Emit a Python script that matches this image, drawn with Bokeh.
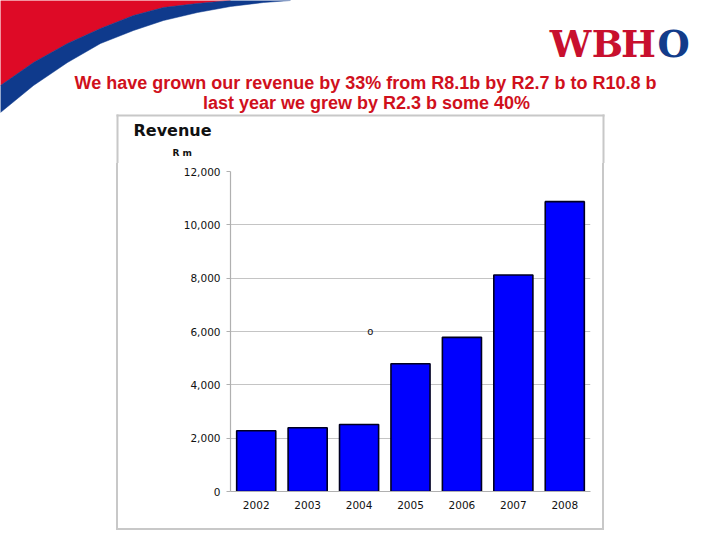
from bokeh.plotting import figure
from bokeh.models import (FactorRange, Range1d, FixedTicker, NumeralTickFormatter,
                          Label, ColumnDataSource, Spacer)
from bokeh.layouts import column, row
from bokeh.core.properties import value
from bokeh.embed import file_html
from bokeh.resources import INLINE

# ---- data ----
years = ["2002", "2003", "2004", "2005", "2006", "2007", "2008"]
revenue = [2280, 2390, 2510, 4790, 5780, 8120, 10870]
y_ticks = [0, 2000, 4000, 6000, 8000, 10000, 12000]
chart_title = "Revenue"
unit_label = "R m"
headline_1 = "We have grown our revenue by 33% from R8.1b by R2.7 b to R10.8 b"
headline_2 = "last year we grew by R2.3 b some 40%"

BORDER = "#c8c8c8"

# ---- header (page pixels, y down): swoosh, logo, headline, top of chart box ----
hdr = figure(width=720, height=163, output_backend="svg", toolbar_location=None,
             x_range=Range1d(0, 720), y_range=Range1d(163, 0),
             x_axis_type=None, y_axis_type=None, min_border=0)
hdr.outline_line_color = None
hdr.grid.visible = False
hdr.background_fill_color = "white"
hdr.border_fill_color = "white"

red_edge_x = [230, 197, 163, 133, 100, 67, 33, 0]
red_edge_y = [0, 3, 7, 15, 28, 43, 62, 85]
blue_edge_x = [290, 263, 230, 197, 163, 133, 100, 67, 33, 0]
blue_edge_y = [0, 2, 6, 12, 20, 30, 43, 62, 85, 112]
hdr.patch([0] + red_edge_x, [0] + red_edge_y,
          fill_color="#de0a26", line_color="#de0a26", line_width=0.5)
hdr.patch(blue_edge_x + red_edge_x[::-1], blue_edge_y + red_edge_y[::-1],
          fill_color="#0f3a8c", line_color="#0f3a8c", line_width=0.5)

for letter, cx, col in (("W", 570, "#c8102e"), ("B", 607, "#c8102e"),
                        ("H", 638, "#c8102e"), ("O", 673, "#123c8a")):
    hdr.text(x=[cx], y=[43], text=[letter], text_font=value("DejaVu Serif"),
             text_font_style="bold", text_font_size="37px", text_color=col,
             text_baseline="alphabetic", text_align="center")

hdr.text(x=[365, 366], y=[82, 102], text=[headline_1, headline_2],
         text_font=value("Liberation Sans"), text_font_style="bold",
         text_font_size="18px", text_color="#d0101c",
         text_baseline="alphabetic", text_align="center")

# top part of the grey chart box
hdr.segment(x0=[116, 117, 603], y0=[115, 114, 114], x1=[604, 117, 603], y1=[115, 163, 163],
            line_color=BORDER, line_width=2)

# chart title and unit
hdr.text(x=[133], y=[130], text=[chart_title], text_font=value("DejaVu Sans"),
         text_font_style="bold", text_font_size="16px", text_color="#111111",
         text_baseline="middle", text_align="left")
hdr.text(x=[172], y=[152], text=[unit_label], text_font=value("DejaVu Sans"),
         text_font_style="bold", text_font_size="9px", text_color="#111111",
         text_baseline="middle", text_align="left")

# ---- chart ----
p = figure(width=484, height=365, output_backend="svg", toolbar_location=None,
           x_range=FactorRange(*years, range_padding=0),
           y_range=Range1d(0, 12000),
           min_border_left=112, min_border_right=12,
           min_border_top=8, min_border_bottom=37)
p.outline_line_color = None
p.background_fill_color = "white"
p.border_fill_color = "white"

src = ColumnDataSource(dict(year=years, revenue=revenue))
p.vbar(x="year", top="revenue", width=0.76, source=src,
       fill_color="#0000ff", line_color="#000022", line_width=1.6)

p.xgrid.grid_line_color = None
p.ygrid.grid_line_color = "#c4c4c4"
p.ygrid.grid_line_width = 1.2
p.yaxis.ticker = FixedTicker(ticks=y_ticks)
p.yaxis.formatter = NumeralTickFormatter(format="0,0")
for ax in (p.xaxis[0], p.yaxis[0]):
    ax.axis_line_color = "#b0b0b0"
    ax.axis_line_width = 1.2
    ax.major_tick_line_color = "#b0b0b0"
    ax.major_tick_in = 0
    ax.major_tick_out = 4
    ax.minor_tick_line_color = None
    ax.major_label_text_font = "DejaVu Sans"
    ax.major_label_text_font_size = "10.5px"
    ax.major_label_text_color = "#111111"
p.xaxis.major_tick_line_color = None
p.xaxis.major_label_standoff = 5
p.yaxis.major_label_standoff = 6

# stray label seen in the original chart
p.add_layout(Label(x=2.72, y=6000, text="o", text_font="DejaVu Sans",
                   text_font_size="10px", text_color="#111111",
                   text_baseline="middle", text_align="center"))

# ---- assemble: lower part of the grey box around the chart ----
def vline(h):
    return Spacer(width=2, height=h, styles={"background-color": BORDER})

def hline(w):
    return Spacer(width=w, height=2, styles={"background-color": BORDER})

boxed = column(row(vline(365), p, vline(365), spacing=0), hline(488), spacing=0)
body = row(Spacer(width=116, height=367), boxed, Spacer(width=116, height=367), spacing=0)
page = column(hdr, body, spacing=0)

open("out.html", "w").write(file_html(page, INLINE))
